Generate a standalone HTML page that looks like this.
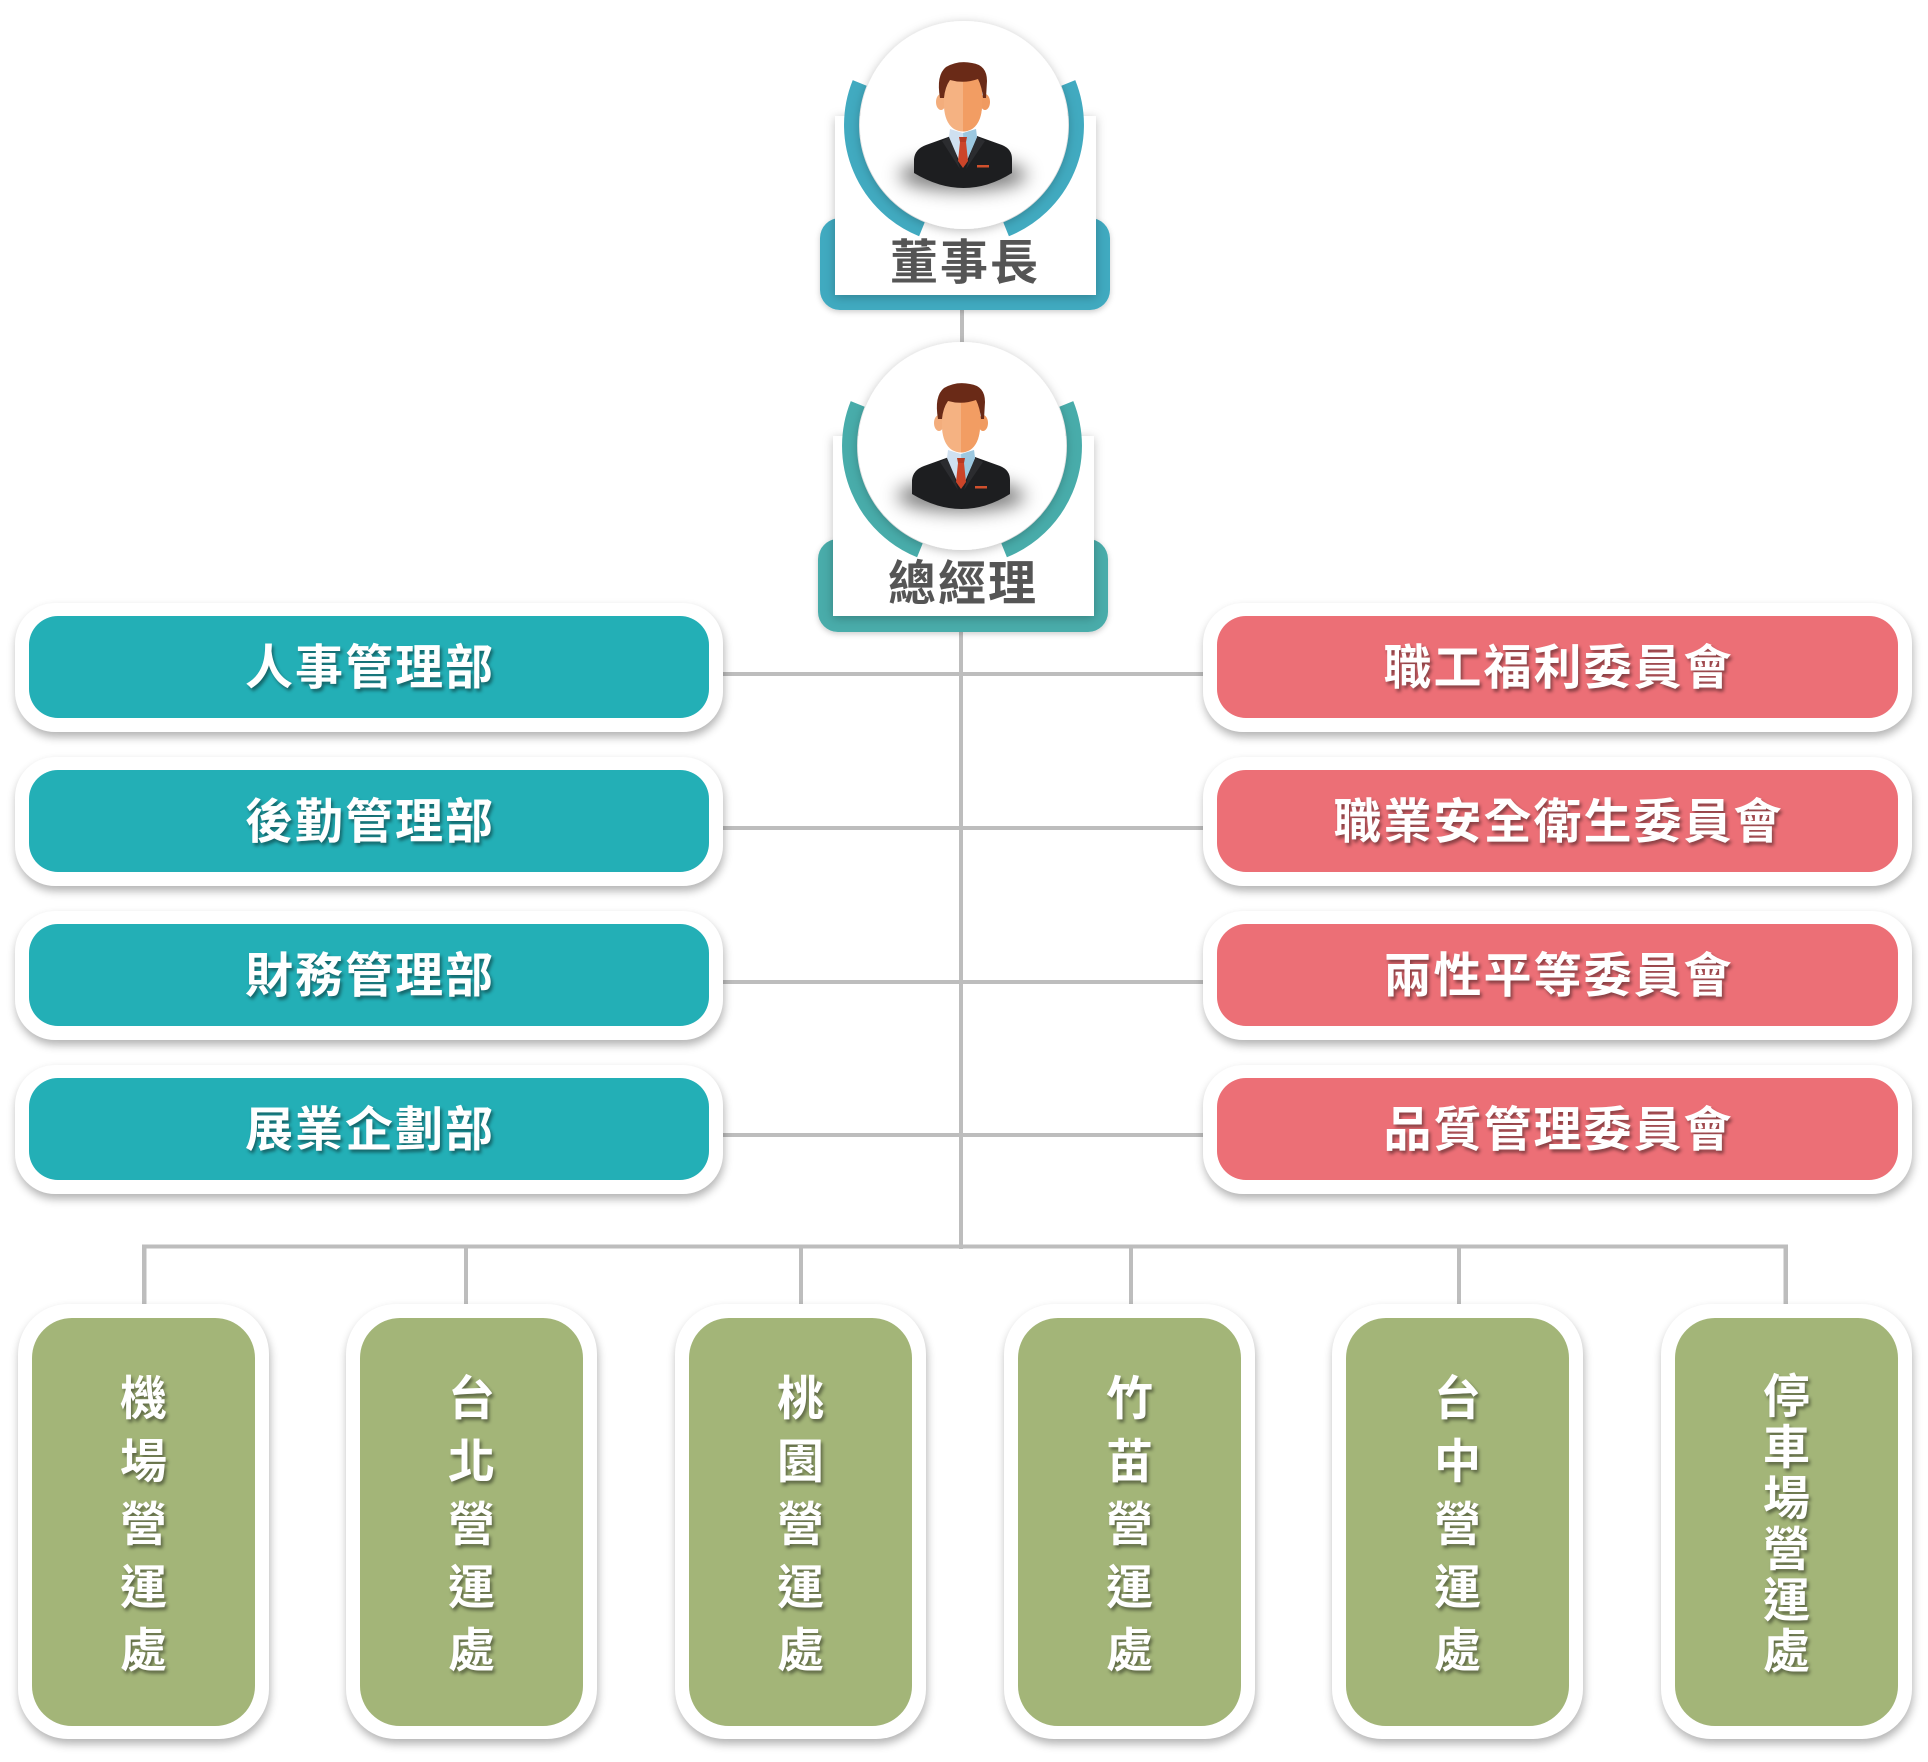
<!DOCTYPE html>
<html>
<head>
<meta charset="utf-8">
<style>
  html,body{margin:0;padding:0;background:#fff;}
  body{width:1928px;height:1762px;position:relative;overflow:hidden;
    font-family:"Liberation Sans","Noto Sans CJK TC","Noto Sans CJK SC",sans-serif;}
  .ob{position:absolute;background:#fff;box-shadow:1px 5px 9px rgba(0,0,0,0.30);}
  .dep{height:129px;border-radius:40px;}
  .ib{position:absolute;display:flex;align-items:center;justify-content:center;}
  .dep .ib{top:13px;left:14px;right:14px;bottom:14px;border-radius:29px;}
  .teal{background:#23afb6;}
  .pink{background:#ec6f76;}
  .green{background:#a3b578;}
  .lbl{color:#fff;font-weight:700;font-size:48px;line-height:1;letter-spacing:2px;
    text-shadow:2px 3px 3px rgba(0,0,0,0.42);white-space:nowrap;
    font-family:"Liberation Sans","Noto Sans CJK TC","Noto Sans CJK SC",sans-serif;
    position:relative;top:2px;left:1px;}
  .op{top:1304px;width:251px;height:435px;border-radius:50px;}
  .op .ib{top:14px;left:14px;right:14px;bottom:13px;border-radius:40px;flex-direction:column;}
  .vt{color:#fff;font-weight:700;font-size:47px;text-align:center;
    text-shadow:2px 3px 3px rgba(0,0,0,0.42);position:relative;top:2px;
    font-family:"Liberation Sans","Noto Sans CJK TC","Noto Sans CJK SC",sans-serif;}
  .vt div{height:63px;line-height:63px;}
  .vt.tight div{height:51px;line-height:51px;}
</style>
</head>
<body>
<svg width="1928" height="1762" viewBox="0 0 1928 1762" style="position:absolute;left:0;top:0">
  <defs>
    <filter id="ds" x="-30%" y="-30%" width="160%" height="160%">
      <feDropShadow dx="0" dy="2" stdDeviation="5" flood-color="#000" flood-opacity="0.25"/>
    </filter>
    <filter id="ds2" x="-30%" y="-30%" width="160%" height="160%">
      <feDropShadow dx="0" dy="2" stdDeviation="3" flood-color="#000" flood-opacity="0.2"/>
    </filter>
    <filter id="bl" x="-50%" y="-80%" width="200%" height="260%">
      <feGaussianBlur stdDeviation="9"/>
    </filter>
    <clipPath id="rh"><rect x="-1" y="-80" width="60" height="100"/></clipPath>
    <g id="av">
      <ellipse cx="-1" cy="50" rx="64" ry="16" fill="#000" opacity="0.5" filter="url(#bl)"/>
      <path d="M -50,48 L -50,34 Q -49,24 -38,20 L -13,11 L 13,11 L 38,20 Q 48,24 48,34 L 48,48 Q 0,78 -50,48 Z" fill="#1d1e20"/>
      <path d="M -13,11 L -22,16 L -4,44 Z" fill="#2b2c2f"/>
      <path d="M 12,11 L 21,16 L 2,44 Z" fill="#2b2c2f"/>
      <ellipse cx="-23" cy="-23" rx="5" ry="8" fill="#f3ad7c"/>
      <ellipse cx="21" cy="-23" rx="5" ry="8" fill="#f09a60"/>
      <path d="M -20,-48 L 18,-48 L 18,-18 Q 17,-2 8,4 Q -1,9 -10,4 Q -19,-2 -20,-18 Z" fill="#f5b282"/>
      <path d="M -20,-48 L 18,-48 L 18,-18 Q 17,-2 8,4 Q -1,9 -10,4 Q -19,-2 -20,-18 Z" fill="#f29d63" clip-path="url(#rh)"/>
      <path d="M -24,-27 Q -28,-50 -18,-58 Q -6,-65 8,-62 Q 23,-60 23,-44 L 22,-27 L 19,-27 Q 18,-38 14,-46 Q 0,-41 -14,-45 Q -19,-38 -20,-27 Z" fill="#6a2a17"/>
      <polygon points="-14,4 -1,8 12,4 13,12 1,40 -3,40 -15,12" fill="#cfe0f0"/>
      <polygon points="-1,8 12,4 13,12 1,40" fill="#9cc8e0"/>
      <polygon points="-5,12 3,12 2,17 -4,17" fill="#b83a22"/>
      <polygon points="-4,17 2,17 4,36 -1,43 -6,36" fill="#cc4529"/>
      <rect x="13" y="40" width="12" height="2.5" fill="#d0502d"/>
    </g>
  </defs>

  <!-- connectors -->
  <rect x="960" y="300" width="4" height="50" fill="#bdbdbd"/>
  <rect x="959" y="625" width="4" height="624" fill="#bdbdbd"/>
  <rect x="700" y="672" width="520" height="4" fill="#bdbdbd"/>
  <rect x="700" y="826" width="520" height="4" fill="#bdbdbd"/>
  <rect x="700" y="980" width="520" height="4" fill="#bdbdbd"/>
  <rect x="700" y="1133" width="520" height="4" fill="#bdbdbd"/>
  <rect x="142" y="1244.5" width="1646" height="4" fill="#bdbdbd"/>
  <rect x="142" y="1244.5" width="4.5" height="70" fill="#bdbdbd"/>
  <rect x="464" y="1244.5" width="4" height="70" fill="#bdbdbd"/>
  <rect x="799" y="1244.5" width="4" height="70" fill="#bdbdbd"/>
  <rect x="1129" y="1244.5" width="4" height="70" fill="#bdbdbd"/>
  <rect x="1457" y="1244.5" width="4" height="70" fill="#bdbdbd"/>
  <rect x="1783.5" y="1244.5" width="4.5" height="70" fill="#bdbdbd"/>

  <!-- Node 1: 董事長 -->
  <g>
    <rect x="820" y="218" width="290" height="92" rx="20" fill="#41aac0" filter="url(#ds2)"/>
    <rect x="835" y="116" width="261" height="179" fill="#fff" filter="url(#ds)"/>
    <path d="M 921.9,229.3 A 112.5,112.5 0 0 1 859.7,82.9" fill="none" stroke="#41aac0" stroke-width="15"/>
    <path d="M 1068.3,82.9 A 112.5,112.5 0 0 1 1006.1,229.3" fill="none" stroke="#41aac0" stroke-width="15"/>
    <circle cx="964" cy="125" r="104" fill="#fff" filter="url(#ds)"/>
    <use href="#av" x="964" y="125"/>
    <text x="965" y="279" text-anchor="middle" font-size="48" font-weight="700" fill="#555" letter-spacing="2" font-family="'Liberation Sans','Noto Sans CJK TC',sans-serif">董事長</text>
  </g>

  <!-- Node 2: 總經理 -->
  <g>
    <rect x="818" y="539" width="290" height="93" rx="20" fill="#48acaa" filter="url(#ds2)"/>
    <rect x="833" y="436" width="261" height="180" fill="#fff" filter="url(#ds)"/>
    <path d="M 919.9,550.3 A 112.5,112.5 0 0 1 857.7,403.9" fill="none" stroke="#48acaa" stroke-width="15"/>
    <path d="M 1066.3,403.9 A 112.5,112.5 0 0 1 1004.1,550.3" fill="none" stroke="#48acaa" stroke-width="15"/>
    <circle cx="962" cy="446" r="104" fill="#fff" filter="url(#ds)"/>
    <use href="#av" x="962" y="446"/>
    <text x="963" y="600" text-anchor="middle" font-size="48" font-weight="700" fill="#555" letter-spacing="2" font-family="'Liberation Sans','Noto Sans CJK TC',sans-serif">總經理</text>
  </g>
</svg>

<!-- Left departments -->
<div class="ob dep" style="left:15px;top:603px;width:708px;"><div class="ib teal"><span class="lbl">人事管理部</span></div></div>
<div class="ob dep" style="left:15px;top:757px;width:708px;"><div class="ib teal"><span class="lbl">後勤管理部</span></div></div>
<div class="ob dep" style="left:15px;top:911px;width:708px;"><div class="ib teal"><span class="lbl">財務管理部</span></div></div>
<div class="ob dep" style="left:15px;top:1065px;width:708px;"><div class="ib teal"><span class="lbl">展業企劃部</span></div></div>

<!-- Right committees -->
<div class="ob dep" style="left:1203px;top:603px;width:709px;"><div class="ib pink"><span class="lbl">職工福利委員會</span></div></div>
<div class="ob dep" style="left:1203px;top:757px;width:709px;"><div class="ib pink"><span class="lbl">職業安全衛生委員會</span></div></div>
<div class="ob dep" style="left:1203px;top:911px;width:709px;"><div class="ib pink"><span class="lbl">兩性平等委員會</span></div></div>
<div class="ob dep" style="left:1203px;top:1065px;width:709px;"><div class="ib pink"><span class="lbl">品質管理委員會</span></div></div>

<!-- Bottom operation units -->
<div class="ob op" style="left:18px;"><div class="ib green"><div class="vt"><div>機</div><div>場</div><div>營</div><div>運</div><div>處</div></div></div></div>
<div class="ob op" style="left:346px;"><div class="ib green"><div class="vt"><div>台</div><div>北</div><div>營</div><div>運</div><div>處</div></div></div></div>
<div class="ob op" style="left:675px;"><div class="ib green"><div class="vt"><div>桃</div><div>園</div><div>營</div><div>運</div><div>處</div></div></div></div>
<div class="ob op" style="left:1004px;"><div class="ib green"><div class="vt"><div>竹</div><div>苗</div><div>營</div><div>運</div><div>處</div></div></div></div>
<div class="ob op" style="left:1332px;"><div class="ib green"><div class="vt"><div>台</div><div>中</div><div>營</div><div>運</div><div>處</div></div></div></div>
<div class="ob op" style="left:1661px;"><div class="ib green"><div class="vt tight"><div>停</div><div>車</div><div>場</div><div>營</div><div>運</div><div>處</div></div></div></div>
</body>
</html>
